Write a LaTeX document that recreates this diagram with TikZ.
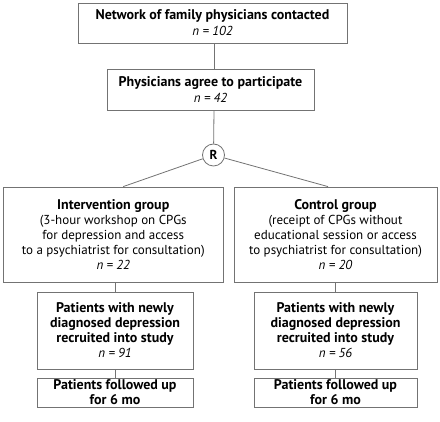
\documentclass[tikz,border=0pt]{standalone}
\usepackage{fontspec}
\setmainfont{PT Sans}
\newcommand\hd[1]{{\fontsize{14}{15}\selectfont\bfseries #1}}
\begin{document}
\begin{tikzpicture}[x=1pt,y=1pt,
  box/.style={draw=black!55, line width=0.8pt, align=center, inner sep=0pt,
    font=\fontsize{13}{15}\selectfont},
  link/.style={draw=black!55, line width=0.8pt}]
\useasboundingbox (0,0) rectangle (440,-422);
\node[box, minimum width=269, minimum height=40] (net) at (212.5,-23)
  {\hd{Network of family physicians contacted}\\[1pt]\textit{n = 102}};
\node[box, minimum width=207, minimum height=41] (agree) at (210.5,-89.5)
  {\hd{Physicians agree to participate}\\[1pt]\textit{n = 42}};
\node[circle, draw=black!55, line width=0.8pt, minimum size=22, inner sep=0pt,
  font=\fontsize{13}{13}\selectfont\bfseries] (R) at (213.5,-155) {R};
\node[box, minimum width=219.5, minimum height=95] (int) at (113.25,-234.5)
  {\hd{Intervention group}\\(3-hour workshop on CPGs\\for depression and access\\to a psychiatrist for consultation)\\\textit{n = 22}};
\node[box, minimum width=203, minimum height=95] (ctl) at (335.5,-234.5)
  {\hd{Control group}\\(receipt of CPGs without\\educational session or access\\to psychiatrist for consultation)\\\textit{n = 20}};
\node[box, minimum width=156, minimum height=77] (pl) at (115,-330.5)
  {\hd{Patients with newly}\\\hd{diagnosed depression}\\\hd{recruited into study}\\\textit{n = 91}};
\node[box, minimum width=163, minimum height=77] (pr) at (335.5,-330.5)
  {\hd{Patients with newly}\\\hd{diagnosed depression}\\\hd{recruited into study}\\\textit{n = 56}};
\node[box, minimum width=156, minimum height=29] (fl) at (115,-392.5)
  {\hd{Patients followed up}\\\hd{for 6 mo}};
\node[box, minimum width=163, minimum height=29] (fr) at (335.5,-392.5)
  {\hd{Patients followed up}\\\hd{for 6 mo}};
\coordinate (intTop) at ([xshift=10pt]int.north);
\coordinate (ctlTop) at ([xshift=-7.5pt]ctl.north);
\draw[link] ([xshift=1.5pt]net.south) -- ([xshift=3.5pt]agree.north);
\draw[link] ([xshift=3.5pt]agree.south) -- (R);
\draw[link] (R) -- (intTop);
\draw[link] (R) -- (ctlTop);
\draw[link] (pl.north |- int.south) -- (pl.north);
\draw[link] (pr.north |- ctl.south) -- (pr.north);
\draw[link] (pl) -- (fl);
\draw[link] (pr) -- (fr);
\end{tikzpicture}
\end{document}
